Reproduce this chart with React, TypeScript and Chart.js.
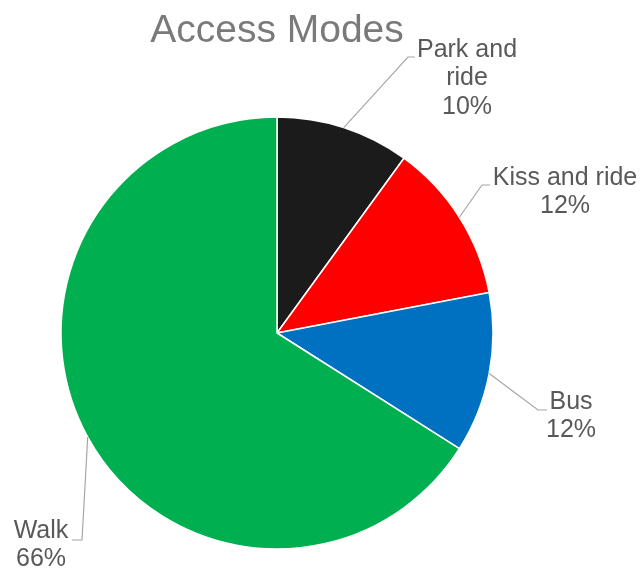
import React, { useEffect, useRef } from "react";
import { Chart, registerables } from "chart.js";

Chart.register(...registerables);

const title = "Access Modes";
const categories = ["Park and ride", "Kiss and ride", "Bus", "Walk"];
const values = [10, 12, 12, 66];
const colors = ["#1b1b1b", "#ff0000", "#0070c0", "#00b050"];
// label text lines (category may wrap)
const labelLines = [["Park and", "ride", "10%"], ["Kiss and ride", "12%"], ["Bus", "12%"], ["Walk", "66%"]];
// label placement (center x, first line center y) and leader elbow/end points
const labelPos = [
  [467, 50],
  [565, 178],
  [571, 402],
  [41, 531],
];
const leaderElbow = [
  [408, 57],
  [482, 185],
  [538, 410],
  [82, 540],
];
const leaderEnd = [
  [415, 57],
  [490, 185],
  [547, 410],
  [72, 540],
];

const labelPlugin = {
  id: "outsideLabels",
  afterDraw(chart: any) {
    const ctx = chart.ctx;
    const meta = chart.getDatasetMeta(0);
    ctx.save();
    // title
    ctx.fillStyle = "#7a7a7a";
    ctx.font = "39px 'Liberation Sans', Arial, sans-serif";
    ctx.textAlign = "center";
    ctx.textBaseline = "middle";
    const cx = meta.data[0].x;
    ctx.fillText(title, cx, 31);

    meta.data.forEach((arc: any, i: number) => {
      const mid = (arc.startAngle + arc.endAngle) / 2;
      const sx = arc.x + Math.cos(mid) * arc.outerRadius;
      const sy = arc.y + Math.sin(mid) * arc.outerRadius;
      ctx.strokeStyle = "#a6a6a6";
      ctx.lineWidth = 1.2;
      ctx.beginPath();
      ctx.moveTo(sx, sy);
      ctx.lineTo(leaderElbow[i][0], leaderElbow[i][1]);
      ctx.lineTo(leaderEnd[i][0], leaderEnd[i][1]);
      ctx.stroke();

      ctx.fillStyle = "#595959";
      ctx.font = "25px 'Liberation Sans', Arial, sans-serif";
      ctx.textAlign = "center";
      ctx.textBaseline = "middle";
      labelLines[i].forEach((t, j) => {
        ctx.fillText(t, labelPos[i][0], labelPos[i][1] + j * 28.5);
      });
    });
    ctx.restore();
  },
};

export default function App() {
  const ref = useRef<HTMLCanvasElement>(null);
  useEffect(() => {
    if (!ref.current) return;
    const chart = new Chart(ref.current, {
      type: "pie",
      data: {
        labels: categories,
        datasets: [
          {
            data: values,
            backgroundColor: colors,
            borderColor: "#ffffff",
            borderWidth: 1.5,
          },
        ],
      },
      options: {
        responsive: false,
        animation: false,
        radius: 216,
        layout: { padding: { left: 61, right: 147, top: 117, bottom: 20 } },
        plugins: {
          legend: { display: false },
          title: { display: false },
          tooltip: { enabled: false },
        },
      } as any,
      plugins: [labelPlugin],
    });
    return () => chart.destroy();
  }, []);
  return (
    <div style={{ position: "fixed", left: 0, top: 0, width: 640, height: 569, background: "#ffffff" }}>
      <canvas ref={ref} width={640} height={569} />
    </div>
  );
}
